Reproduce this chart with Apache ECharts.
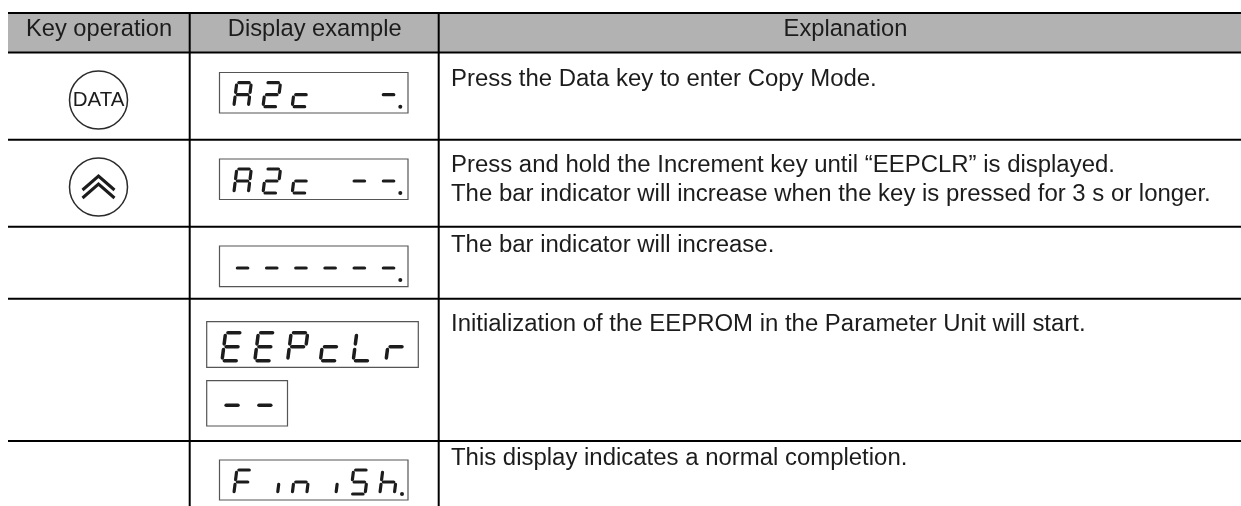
<!DOCTYPE html>
<html>
<head>
<meta charset="utf-8">
<title>Copy Mode table</title>
<script src="https://cdn.jsdelivr.net/npm/echarts@6/dist/echarts.min.js"></script>
<style>
  html, body { margin: 0; padding: 0; background: #fff; }
  #main { width: 1241px; height: 506px; }
</style>
</head>
<body>
<div id="main"></div>
<script>
// table content
const headers = ["Key operation", "Display example", "Explanation"];
const explanations = [
  ["Press the Data key to enter Copy Mode."],
  ["Press and hold the Increment key until \u201cEEPCLR\u201d is displayed.",
   "The bar indicator will increase when the key is pressed for 3 s or longer."],
  ["The bar indicator will increase."],
  ["Initialization of the EEPROM in the Parameter Unit will start."],
  ["This display indicates a normal completion."]
];
const keyLabels = ["DATA", "increment", "", "", ""];
// one string per display window, "." lights the decimal point of the digit before it
const displayTexts = ["A2c  -.", "A2c --.", "------.", "EEPcLr", "--", "FiniSh."];

// layout, all in page pixels
const colEdges = [8, 189.7, 438.7, 1241];
const rowEdges = [13, 52.5, 139.7, 226.7, 298.8, 441];
const tableBottom = 506;
const headerCentres = [99, 314.7, 845.5];
const headerTextY = 29.5;
const explanationX = 451;
const explanationY = [[79.5], [165.5, 194.5], [245.5], [324], [458.5]];
const keyCentres = [[98.5, 100], [98.5, 187]];
const keyRadius = 29;
const smallDigit = { w: 14.5, h: 24, s: 3, pitch: 29.2, lw: 3.2, dot: 2 };
const bigDigit = { w: 16.5, h: 28, s: 3.6, pitch: 32.8, lw: 3.5, dot: 2 };
const displayBoxes = [
  { x0: 219.5, x1: 408, y0: 72.5, y1: 113, digit: smallDigit, left: 233.8, top: 82.7, dotX: 400.3 },
  { x0: 219.5, x1: 408, y0: 159, y1: 199.5, digit: smallDigit, left: 233.8, top: 169, dotX: 400.3 },
  { x0: 219.5, x1: 408, y0: 246, y1: 286.7, digit: smallDigit, left: 233.8, top: 256, dotX: 400.3 },
  { x0: 206.7, x1: 418.3, y0: 321.7, y1: 367.3, digit: bigDigit, left: 222, top: 332.7, dotX: 0 },
  { x0: 206.7, x1: 287.5, y0: 380.7, y1: 426, digit: bigDigit, left: 222, top: 391.3, dotX: 0 },
  { x0: 219.5, x1: 408, y0: 460, y1: 500, digit: smallDigit, left: 233.8, top: 470, dotX: 402 }
];

const headerFont = '23.7px "Liberation Sans", Arial, sans-serif';
const textFont = '23.95px "Liberation Sans", Arial, sans-serif';
const keyFont = '20.5px "Liberation Sans", Arial, sans-serif';
const textColor = "#1c1c1c";

// seven segments: a top, b/c right, d bottom, e/f left, g middle
const segmentLines = {
  a: [[0.14, 0], [0.86, 0]],
  b: [[1, 0.1], [1, 0.4]],
  c: [[1, 0.6], [1, 0.9]],
  d: [[0.14, 1], [0.86, 1]],
  e: [[0, 0.6], [0, 0.9]],
  f: [[0, 0.1], [0, 0.4]],
  g: [[0.14, 0.5], [0.86, 0.5]]
};
const glyphs = {
  A: "abcefg", 2: "abdeg", c: "deg", "-": "g", E: "adefg", P: "abefg",
  L: "def", r: "eg", F: "aefg", i: "c", n: "ceg", S: "acdfg", h: "cefg", " ": ""
};

const chart = echarts.init(document.getElementById("main"));

function line(api, p0, p1, width, color, cap) {
  const a = api.coord(p0);
  const b = api.coord(p1);
  return {
    type: "line",
    shape: { x1: a[0], y1: a[1], x2: b[0], y2: b[1] },
    style: { stroke: color, lineWidth: width, lineCap: cap || "butt" }
  };
}

function label(api, text, x, y, font, align) {
  const p = api.coord([x, y]);
  return {
    type: "text",
    x: p[0],
    y: p[1],
    style: { text: text, fill: textColor, font: font, align: align, verticalAlign: "middle" }
  };
}

function renderFrame(params, api) {
  const children = [];
  const a = api.coord([colEdges[0], rowEdges[0]]);
  const b = api.coord([colEdges[3], rowEdges[1]]);
  children.push({
    type: "rect",
    shape: { x: a[0], y: a[1], width: b[0] - a[0], height: b[1] - a[1] },
    style: { fill: "#b2b2b2" }
  });
  rowEdges.forEach(function (y) {
    children.push(line(api, [colEdges[0], y], [colEdges[3], y], 2, "#000"));
  });
  colEdges.slice(1, 3).forEach(function (x) {
    children.push(line(api, [x, rowEdges[0]], [x, tableBottom], 2, "#000"));
  });
  return { type: "group", children: children };
}

function renderHeader(params, api) {
  const i = api.value(0);
  return label(api, headers[i], headerCentres[i], headerTextY, headerFont, "center");
}

function renderExplanation(params, api) {
  const i = api.value(0);
  return {
    type: "group",
    children: explanations[i].map(function (text, n) {
      return label(api, text, explanationX, explanationY[i][n], textFont, "left");
    })
  };
}

function renderKey(params, api) {
  const i = api.value(0);
  if (!keyLabels[i]) return null;
  const c = keyCentres[i];
  const p = api.coord(c);
  const children = [{
    type: "circle",
    shape: { cx: p[0], cy: p[1], r: keyRadius },
    style: { fill: "#fff", stroke: "#2a2a2a", lineWidth: 1.5 }
  }];
  if (keyLabels[i] === "increment") {
    [0, 8].forEach(function (dy) {
      const arm = [[c[0] - 16, c[1] + 3 + dy], [c[0], c[1] - 11 + dy], [c[0] + 16, c[1] + 3 + dy]];
      children.push({
        type: "polyline",
        shape: { points: arm.map(function (q) { return api.coord(q); }) },
        style: { stroke: "#1c1c1c", lineWidth: 3, fill: null }
      });
    });
  } else {
    children.push(label(api, keyLabels[i], c[0], c[1] + 0.5, keyFont, "center"));
  }
  return { type: "group", children: children };
}

function renderDisplay(params, api) {
  const n = api.value(0);
  const box = displayBoxes[n];
  const d = box.digit;
  const a = api.coord([box.x0, box.y0]);
  const b = api.coord([box.x1, box.y1]);
  const children = [{
    type: "rect",
    shape: { x: a[0], y: a[1], width: b[0] - a[0], height: b[1] - a[1] },
    style: { fill: "#fff", stroke: "#555", lineWidth: 1.2 }
  }];
  let pos = 0;
  displayTexts[n].split("").forEach(function (ch) {
    if (ch === ".") {
      const p = api.coord([box.dotX, box.top + d.h]);
      children.push({ type: "circle", shape: { cx: p[0], cy: p[1], r: d.dot }, style: { fill: "#1c1c1c" } });
      return;
    }
    const x0 = box.left + pos * d.pitch;
    glyphs[ch].split("").forEach(function (seg) {
      const pts = segmentLines[seg].map(function (q) {
        return [x0 + q[0] * d.w + (1 - q[1]) * d.s, box.top + q[1] * d.h];
      });
      children.push(line(api, pts[0], pts[1], d.lw, "#1c1c1c", "round"));
    });
    pos++;
  });
  return { type: "group", children: children };
}

function customSeries(count, renderItem) {
  const data = [];
  for (let i = 0; i < count; i++) data.push([i]);
  return {
    type: "custom",
    coordinateSystem: "cartesian2d",
    silent: true,
    clip: false,
    encode: { x: 0 },
    renderItem: renderItem,
    data: data
  };
}

chart.setOption({
  animation: false,
  backgroundColor: "#fff",
  grid: { left: 0, right: 0, top: 0, bottom: 0 },
  xAxis: { type: "value", min: 0, max: 1241, show: false },
  yAxis: { type: "value", min: 0, max: 506, inverse: true, show: false },
  series: [
    customSeries(1, renderFrame),
    customSeries(headers.length, renderHeader),
    customSeries(explanations.length, renderExplanation),
    customSeries(keyLabels.length, renderKey),
    customSeries(displayTexts.length, renderDisplay)
  ]
});
</script>
</body>
</html>
